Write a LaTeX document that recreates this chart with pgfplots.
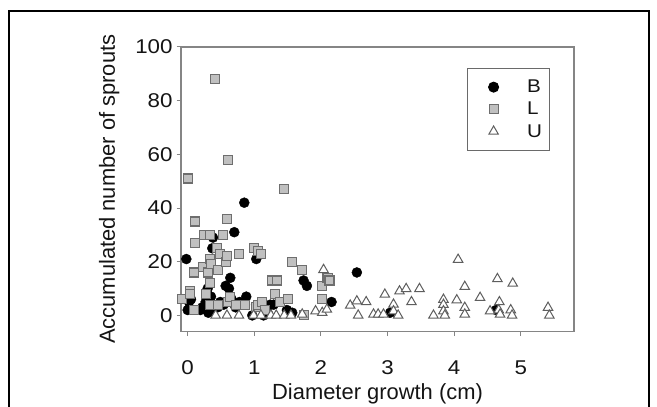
\documentclass[border=0pt]{standalone}
\usepackage{pgfplots}
\pgfplotsset{compat=1.18}
\usepackage{fontspec}
\setmainfont{Liberation Sans}
\newfontfamily\tickfont{Liberation Sans}[FakeStretch=1.12]
\definecolor{axgray}{HTML}{858585}
\definecolor{sqfill}{HTML}{C0C0C0}
\definecolor{sqedge}{HTML}{6E6E6E}
\definecolor{triedge}{HTML}{5E5E5E}
\definecolor{txt}{HTML}{141414}

\begin{document}
\begin{tikzpicture}[x=1bp,y=1bp]
\useasboundingbox (0,0) rectangle (657,406);
% outer frame of the figure
\draw[line width=2bp] (8.5,-5) -- (8.5,395) -- (648.5,395) -- (648.5,-5);
\begin{axis}[
  at={(181bp,74.5bp)}, anchor=south west,
  scale only axis, width=393bp, height=284.5bp,
  xmin=-0.1, xmax=5.8, ymin=-6, ymax=100,
  xtick={0,1,2,3,4,5}, ytick={0,20,40,60,80,100},
  xtick pos=bottom, ytick pos=left,
  tick align=outside, major tick length=4.5bp,
  axis line style={axgray, line width=1.4bp},
  tick style={axgray, line width=1bp},
  /pgf/number format/assume math mode=true,
  ticklabel style={font=\tickfont\fontsize{20}{20}\selectfont, text=txt},
  xticklabel style={anchor=center, inner sep=1bp, yshift=-31.5bp},
  yticklabel style={xshift=-0.5bp},
  xlabel={Diameter growth (cm)},
  xlabel style={at={(axis description cs:0.5,0)}, anchor=center, inner sep=1bp,
    yshift=-62bp, font=\fontsize{22}{24}\selectfont, text=txt},
  ylabel={Accumulated number of sprouts},
  ylabel style={at={(axis description cs:0,0.5)}, anchor=center,
    yshift=71.7bp, font=\fontsize{22}{24}\selectfont, text=txt},
  legend style={at={(0.728,0.926)}, anchor=north west,
    draw=axgray!80!black, line width=1bp,
    font=\tickfont\fontsize{18.5}{18.5}\selectfont, text=txt,
    nodes={inner sep=2.5bp},
    row sep=3bp, inner xsep=5bp, inner ysep=9bp},
  legend cell align=left,
  legend image code/.code={\path[draw=none, fill=none] (-21bp,0bp) -- (31bp,0bp);
    \draw[#1] plot coordinates {(0bp,0bp)};},
]
\addplot[only marks, mark=*, mark size=5bp, draw=black, fill=black] coordinates {
(-0.02,21) (0.00,2) (0.02,5) (0.05,6) (0.19,2) (0.22,3) (0.27,5) (0.30,10)
(0.31,1) (0.35,7) (0.37,2) (0.37,25) (0.38,29) (0.45,3) (0.49,5) (0.54,4)
(0.57,11) (0.62,10) (0.64,14) (0.66,6) (0.70,31) (0.72,3) (0.78,5) (0.85,42)
(0.86,4) (0.88,7) (0.97,0) (1.03,21) (1.14,0) (1.20,1) (1.24,4) (1.29,4)
(1.49,2) (1.57,1) (1.74,13) (1.79,11) (2.16,5) (2.54,16) (3.04,1) (4.63,2)
};
\addlegendentry{B}
\addplot[only marks, mark=square*, mark size=4.5bp, draw=sqedge, fill=sqfill,
  mark options={line width=1.1bp}] coordinates {
(-0.08,6) (0.00,51) (0.03,9) (0.04,8) (0.09,16) (0.10,2) (0.115,35) (0.115,27)
(0.23,18) (0.24,30) (0.27,8) (0.31,16) (0.33,21) (0.33,12) (0.33,4) (0.34,30)
(0.35,19) (0.41,88) (0.44,25) (0.45,17) (0.46,4) (0.49,23) (0.53,30) (0.58,20)
(0.59,36) (0.59,22) (0.61,58) (0.61,5) (0.64,7) (0.73,4) (0.77,23) (0.86,4)
(0.99,25) (1.02,3) (1.05,24) (1.06,4) (1.10,23) (1.12,5) (1.16,2) (1.27,13)
(1.31,8) (1.34,13) (1.39,5) (1.45,47) (1.51,6) (1.56,20) (1.72,17) (1.75,0)
(2.02,11) (2.02,6) (2.10,14) (2.13,13)
};
\addlegendentry{L}
\addplot[only marks, mark=triangle*, mark size=5.5bp, draw=triedge, fill=white,
  mark options={line width=1bp}] coordinates {
(0.42,0) (0.59,0) (0.77,0) (0.99,0) (1.10,0) (1.25,0) (1.33,0) (1.45,0)
(1.55,0) (1.72,0.4) (1.92,1.6) (2.02,1) (2.04,17) (2.09,2.2) (2.44,3.7)
(2.54,5.3) (2.56,0) (2.68,5) (2.79,0.4) (2.86,0.4) (2.94,0.4) (2.96,7.8)
(3.09,4.1) (3.09,1.6) (3.16,0) (3.18,9) (3.28,9.9) (3.36,5) (3.48,9.9)
(3.69,0) (3.84,5.9) (3.84,4) (3.84,1.6) (3.86,0) (4.06,20.8) (4.04,5.7)
(4.16,10.7) (4.16,2.9) (4.16,0.4) (4.39,6.6) (4.54,1.6) (4.65,13.6) (4.68,5)
(4.67,2) (4.69,0.4) (4.88,11.9) (4.85,2) (4.87,0) (5.41,2.9) (5.43,0)
};
\addlegendentry{U}
\end{axis}
\end{tikzpicture}
\end{document}
